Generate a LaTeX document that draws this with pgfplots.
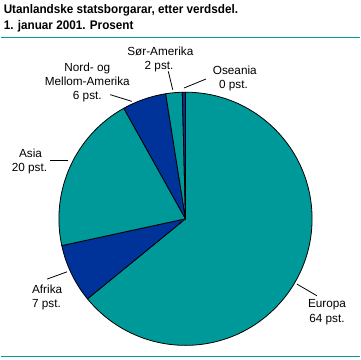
\documentclass[border=0pt]{standalone}
\usepackage{pgfplots}
\pgfplotsset{compat=1.18}
\usepackage{fontspec}
\setmainfont{Liberation Sans}
\definecolor{ssbteal}{RGB}{0,153,153}
\definecolor{ssbblue}{RGB}{0,51,153}
\begin{document}
\begin{tikzpicture}
% shares (per cent), clockwise from 12 o'clock
\def\pEur{64.1}\def\pAfr{7.5}\def\pAsi{20.3}\def\pNor{5.6}\def\pSor{2.1}\def\pOse{0.4}
\pgfmathsetmacro\aA{90}
\pgfmathsetmacro\aB{\aA-3.6*\pEur}
\pgfmathsetmacro\aC{\aB-3.6*\pAfr}
\pgfmathsetmacro\aD{\aC-3.6*\pAsi}
\pgfmathsetmacro\aE{\aD-3.6*\pNor}
\pgfmathsetmacro\aF{\aE-3.6*\pSor}
\pgfmathsetmacro\aG{\aF-3.6*\pOse}
\newcommand\slice[3]{\filldraw[fill=#3,draw=black,line width=0.8bp,line join=round] (axis cs:185.5,-219.5) -- ++(#1:127bp) arc[start angle=#1,end angle=#2,radius=127bp] -- cycle;}
\newcommand\lab[3]{\node[anchor=base,inner sep=0pt,font=\fontsize{11.8bp}{14bp}\selectfont] at (axis cs:#1,-#2) {#3};}
\begin{axis}[x=1bp,y=1bp,xmin=0,xmax=361,ymin=-361,ymax=0,hide axis,clip=false,scale only axis]
\path (axis cs:0,0) rectangle (axis cs:361,-361);
\slice{\aA}{\aB}{ssbteal}
\slice{\aB}{\aC}{ssbblue}
\slice{\aC}{\aD}{ssbteal}
\slice{\aD}{\aE}{ssbblue}
\slice{\aE}{\aF}{ssbteal}
\slice{\aF}{\aG}{ssbblue}
% rules
\draw[ssbteal,line width=1.2bp] (axis cs:0,-38) -- (axis cs:361,-38);
\draw[ssbteal,line width=1.2bp] (axis cs:0,-357.5) -- (axis cs:361,-357.5);
% title
\node[anchor=base west,inner sep=0pt,xscale=0.94,font=\bfseries\fontsize{12.5bp}{16bp}\selectfont] at (axis cs:3,-13.5) {Utanlandske statsborgarar, etter verdsdel.};
\node[anchor=base west,inner sep=0pt,xscale=0.94,font=\bfseries\fontsize{12.5bp}{16bp}\selectfont] at (axis cs:3,-29.5) {1. januar 2001. Prosent};
% leader lines
\draw[black,line width=0.8bp] (axis cs:168.3,-71.7) -- (axis cs:172.7,-90);
\draw[black,line width=0.8bp] (axis cs:184,-88.3) -- (axis cs:206,-79.3);
\draw[black,line width=0.8bp] (axis cs:110,-95) -- (axis cs:131.7,-101.7);
\draw[black,line width=0.8bp] (axis cs:50,-161) -- (axis cs:67.7,-161);
\draw[black,line width=0.8bp] (axis cs:46.7,-280) -- (axis cs:66.7,-272.7);
\draw[black,line width=0.8bp] (axis cs:297.3,-285) -- (axis cs:317.3,-296.7);
% labels
\lab{160.3}{55.7}{Sør-Amerika}
\lab{159}{69.3}{2 pst.}
\lab{235}{74.3}{Oseania}
\lab{233.7}{88.3}{0 pst.}
\lab{87}{72}{Nord- og}
\lab{87}{86}{Mellom-Amerika}
\lab{87}{100}{6 pst.}
\lab{30}{157.7}{Asia}
\lab{29}{171.7}{20 pst.}
\lab{46.7}{294.3}{Afrika}
\lab{46}{308.3}{7 pst.}
\lab{327.5}{308.3}{Europa}
\lab{327.5}{324}{64 pst.}
\end{axis}
\end{tikzpicture}
\end{document}
